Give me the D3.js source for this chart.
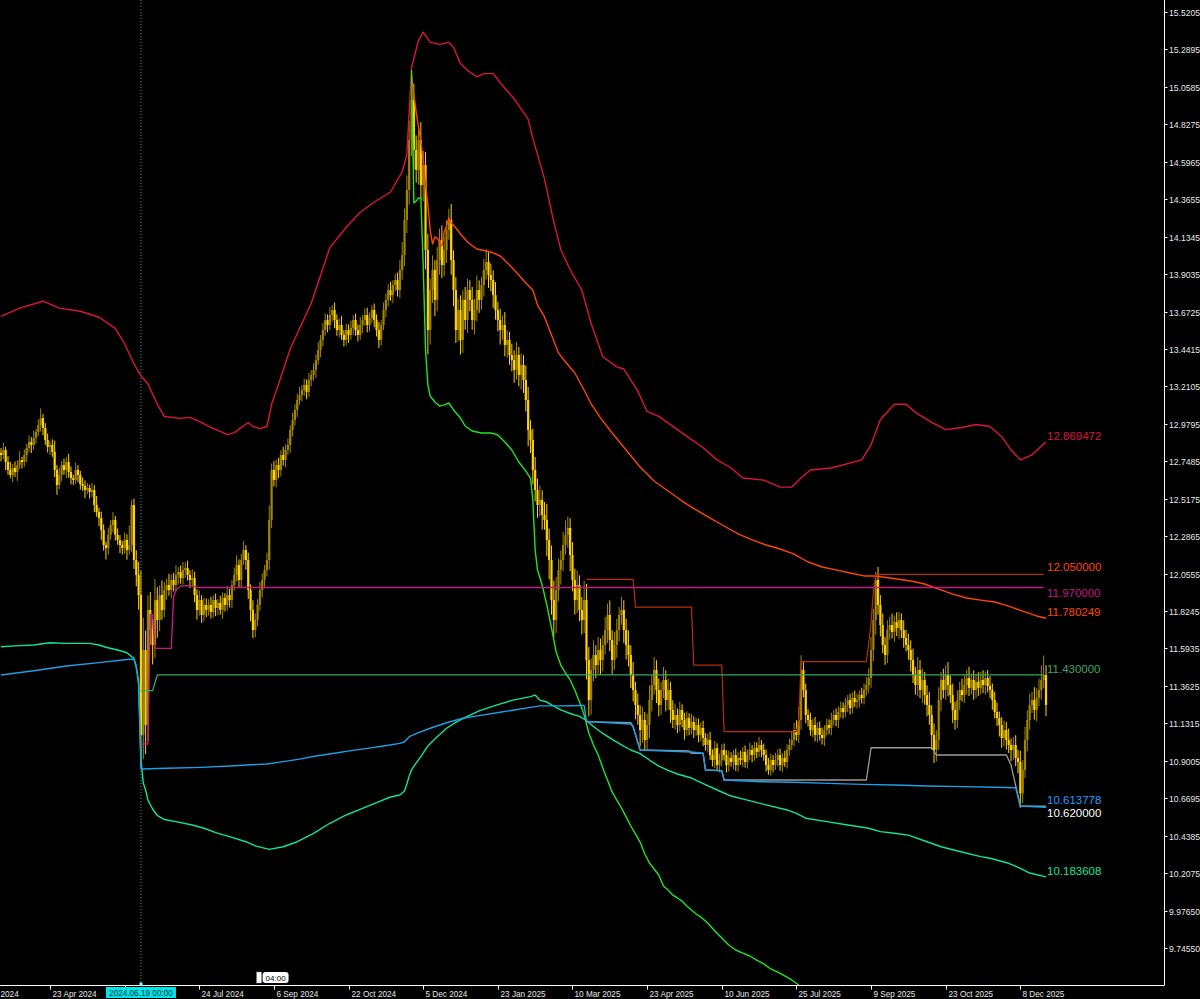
<!DOCTYPE html>
<html><head><meta charset="utf-8">
<script src="https://cdn.jsdelivr.net/npm/d3@7"></script>
<style>html,body{margin:0;padding:0;background:#000;overflow:hidden}</style>
</head><body>
<svg id="chart" width="1200" height="999"></svg>
<script>
// ---------- DATA ----------
// daily closes, one per bar (bar 0 .. 448)
const closes = [
12.787,12.818,12.744,12.695,12.664,12.707,12.682,12.725,12.756,12.744,
12.787,12.830,12.867,12.849,12.892,12.929,12.972,13.015,12.954,12.880,
12.837,12.849,12.806,12.695,12.602,12.664,12.725,12.695,12.744,12.682,
12.645,12.633,12.695,12.664,12.608,12.596,12.571,12.584,12.559,12.571,
12.479,12.436,12.398,12.324,12.232,12.213,12.294,12.355,12.386,12.294,
12.263,12.232,12.213,12.263,12.201,12.232,12.479,12.139,12.047,11.923,
11.060,11.584,11.121,11.831,11.707,11.615,11.892,11.769,11.923,11.831,
11.954,11.985,11.954,12.016,11.985,12.047,12.065,12.028,12.078,12.090,
12.047,12.016,12.028,11.923,11.831,11.892,11.800,11.862,11.831,11.862,
11.818,11.892,11.843,11.874,11.831,11.905,11.862,11.923,11.892,11.985,
12.047,12.108,12.016,12.139,12.201,12.139,11.954,11.831,11.707,11.769,
11.862,11.954,12.016,12.078,12.139,12.386,12.695,12.633,12.725,12.695,
12.787,12.756,12.818,12.849,12.941,13.003,13.065,13.126,13.157,13.188,
13.219,13.176,13.250,13.281,13.312,13.373,13.435,13.497,13.558,13.620,
13.589,13.651,13.682,13.620,13.558,13.589,13.528,13.497,13.558,13.528,
13.571,13.620,13.558,13.528,13.589,13.620,13.651,13.589,13.632,13.682,
13.620,13.558,13.497,13.589,13.682,13.744,13.805,13.774,13.836,13.867,
13.805,13.929,14.021,14.237,14.422,14.731,14.977,14.669,14.546,14.731,
14.453,14.576,14.052,13.558,13.805,13.929,13.744,13.990,14.114,13.959,
14.052,14.175,14.237,13.990,13.805,13.558,13.682,13.497,13.744,13.620,
13.805,13.744,13.620,13.682,13.805,13.744,13.836,13.929,13.978,13.898,
13.867,13.774,13.682,13.620,13.558,13.589,13.466,13.497,13.404,13.373,
13.312,13.404,13.281,13.343,13.250,13.126,12.941,12.880,12.695,12.571,
12.479,12.510,12.417,12.386,12.263,12.139,11.892,11.769,11.954,12.078,
12.139,12.232,12.294,12.337,12.170,12.016,11.892,11.985,11.831,11.769,
11.892,11.522,11.275,11.461,11.553,11.491,11.584,11.522,11.615,11.707,
11.800,11.646,11.522,11.615,11.707,11.800,11.831,11.707,11.615,11.553,
11.430,11.337,11.245,11.183,11.090,11.152,11.029,11.121,11.275,11.368,
11.461,11.337,11.245,11.337,11.399,11.275,11.337,11.214,11.152,11.183,
11.121,11.214,11.152,11.090,11.164,11.103,11.140,11.090,11.121,11.060,
11.103,11.041,10.998,11.029,10.936,10.905,10.979,10.874,10.905,10.967,
10.936,10.874,10.918,10.893,10.936,10.874,10.918,10.905,10.955,10.893,
10.936,10.967,10.936,10.979,10.955,10.998,10.967,10.936,10.874,10.844,
10.905,10.874,10.905,10.936,10.874,10.918,10.893,10.967,10.998,11.029,
11.090,11.060,11.152,11.461,11.337,11.183,11.152,11.090,11.121,11.060,
11.103,11.060,11.041,11.090,11.121,11.103,11.152,11.183,11.152,11.201,
11.226,11.201,11.245,11.275,11.226,11.288,11.263,11.275,11.306,11.288,
11.337,11.368,11.411,11.584,11.769,12.016,11.862,11.738,11.615,11.553,
11.707,11.738,11.695,11.757,11.720,11.769,11.707,11.658,11.615,11.584,
11.522,11.430,11.368,11.461,11.337,11.399,11.306,11.245,11.183,11.060,
10.967,11.029,11.275,11.399,11.337,11.430,11.368,11.306,11.214,11.152,
11.275,11.337,11.306,11.368,11.411,11.350,11.399,11.337,11.387,11.350,
11.399,11.368,11.411,11.362,11.337,11.275,11.201,11.164,11.121,11.041,
11.090,11.029,10.998,10.967,10.998,10.918,10.893,10.700,10.844,11.029,
11.152,11.245,11.275,11.214,11.288,11.337,11.399,11.430,11.245
];
const firstOpen = 12.80;
// wick lengths beyond the body, in thousandths of a price unit, one per bar
const upperWicks = [
30,45,20,35,50,25,40,30,55,20, 35,25,40,30,45,20,35,60,25,30,
40,25,35,70,30,45,25,40,30,50, 35,20,45,30,25,40,35,30,20,45,
30,55,25,40,35,20,45,30,50,25, 40,30,25,45,35,120,30,40,60,80,
150,200,120,90,110,70,130,80,60,90, 50,40,70,35,45,60,30,40,50,35,
45,30,55,40,35,60,30,45,40,35, 50,30,40,25,45,35,30,55,40,30,
45,60,35,40,55,30,45,35,60,40, 35,50,40,30,45,90,40,55,35,45,
30,50,35,40,30,45,35,40,50,30, 40,35,45,30,40,35,50,30,45,40,
35,50,30,45,35,40,55,30,40,35, 45,30,40,35,50,30,40,45,35,30,
40,35,50,30,45,40,35,50,30,40, 45,60,80,70,90,120,60,100,90,80,
110,90,80,100,70,90,60,80,70,90, 80,60,70,100,60,80,70,90,60,80,
70,60,80,70,90,60,50,70,80,60, 70,60,80,50,70,60,80,60,50,70,
60,80,50,70,60,90,80,60,70,80, 70,90,60,80,100,70,90,120,80,70,
60,80,90,70,60,80,70,90,60,80, 120,100,80,70,90,60,80,70,60,80,
70,90,60,80,70,50,80,60,70,90, 60,80,50,70,60,80,50,70,90,60,
80,60,70,50,80,60,70,50,60,70, 40,50,35,45,40,30,50,35,45,40,
35,45,30,40,50,35,45,30,40,35, 40,30,45,35,30,40,35,45,30,40,
35,45,30,40,35,50,30,40,35,45, 40,30,45,35,40,30,45,35,40,50,
45,60,80,90,50,40,35,45,40,50, 35,40,45,30,40,35,45,30,40,35,
40,35,45,30,40,35,45,40,30,45, 40,50,60,80,70,50,80,60,70,50,
60,50,70,40,60,50,40,60,50,70, 60,70,50,80,60,70,50,60,80,60,
70,60,80,50,70,60,80,60,70,50, 60,50,70,60,50,70,40,60,50,60,
50,60,40,50,60,40,50,60,40,50, 60,50,70,40,50,60,50,70,60,80,
60,70,50,80,60,70,90,120,60
];
const lowerWicks = [
40,25,50,30,20,45,30,55,25,40, 30,45,25,50,30,35,25,40,45,30,
35,50,30,45,60,25,40,30,50,35, 40,30,25,45,35,30,50,25,40,30,
45,30,50,60,35,70,40,30,45,35, 30,50,40,35,60,30,45,55,70,90,
200,150,180,100,90,120,80,110,70,60, 45,60,35,50,40,45,60,35,40,50,
35,50,40,45,60,35,50,40,45,35, 40,35,50,45,30,55,40,35,45,50,
35,40,50,45,30,60,55,70,50,45, 40,35,45,50,40,60,50,40,45,50,
40,35,45,30,50,40,35,45,30,40, 35,45,30,40,35,50,30,45,40,35,
45,30,40,50,35,45,30,40,35,50, 30,45,35,40,30,50,35,45,40,30,
45,40,50,35,30,45,40,35,50,40, 40,50,60,70,80,90,100,120,80,90,
90,100,120,150,90,80,100,70,90,80, 70,80,60,90,100,80,70,90,80,60,
80,70,60,90,70,80,60,70,60,80, 70,80,60,70,90,60,70,80,60,70,
80,60,70,90,80,70,100,80,90,70, 80,70,90,60,100,120,90,110,80,70,
90,70,60,80,100,70,90,80,70,90, 80,120,100,90,70,80,60,90,70,60,
80,70,90,60,80,70,60,80,90,70, 80,70,90,60,100,80,70,60,80,70,
60,80,70,60,50,70,60,80,50,60, 50,40,45,60,35,45,40,50,35,45,
40,50,35,45,30,40,50,35,45,40, 35,45,40,30,45,35,40,30,45,35,
40,30,45,35,40,30,45,35,40,30, 35,45,30,40,35,45,30,40,35,30,
40,35,50,60,45,50,40,35,45,40, 45,35,40,50,35,40,45,35,40,50,
35,40,30,45,40,35,30,40,45,35, 40,35,50,60,70,90,60,70,50,60,
50,60,40,60,50,70,50,60,40,60, 70,50,60,70,50,80,60,70,60,90,
80,70,60,70,50,60,70,50,80,60, 50,60,40,50,60,50,40,60,50,50,
40,50,60,40,50,60,40,50,70,60, 50,60,50,70,60,50,70,90,60,50,
70,60,50,60,70,50,60,50,70
];

// indicator lines: [bar, value]
const upperBand = [[0,13.643],[8,13.693],[18,13.736],[25,13.693],[34,13.674],[42,13.637],[49,13.568],[53,13.474],[57,13.350],[60,13.275],[63,13.225],[67,13.100],[70,13.025],[77,13.013],[81,13.019],[85,12.994],[90,12.957],[97,12.913],[100,12.925],[106,12.988],[108,12.963],[111,12.950],[114,12.963],[116,13.100],[119,13.225],[124,13.443],[133,13.724],[141,14.067],[148,14.192],[154,14.285],[160,14.348],[167,14.410],[172,14.535],[174,14.641],[176,15.177],[179,15.346],[181,15.396],[184,15.333],[188,15.321],[192,15.333],[194,15.302],[197,15.202],[200,15.159],[204,15.121],[207,15.140],[211,15.140],[214,15.084],[220,14.984],[226,14.859],[228,14.741],[233,14.491],[237,14.223],[240,14.054],[244,13.930],[249,13.805],[253,13.599],[258,13.393],[264,13.331],[267,13.318],[273,13.181],[277,13.056],[282,13.025],[287,12.975],[293,12.913],[301,12.832],[307,12.757],[313,12.707],[318,12.645],[327,12.632],[334,12.589],[339,12.589],[343,12.645],[347,12.695],[356,12.707],[369,12.757],[373,12.850],[377,13.006],[383,13.100],[388,13.100],[392,13.050],[399,12.988],[405,12.944],[412,12.957],[418,12.975],[424,12.963],[429,12.900],[433,12.819],[437,12.757],[442,12.788],[448,12.869]];
const middleBand = [[176,15.132],[177,15.008],[178,14.903],[179,14.811],[180,14.718],[181,14.607],[182,14.453],[183,14.330],[184,14.175],[185,14.089],[186,14.132],[187,14.126],[188,14.101],[189,14.077],[190,14.163],[191,14.200],[192,14.249],[193,14.219],[195,14.188],[197,14.151],[200,14.101],[204,14.058],[210,14.040],[214,14.015],[218,13.959],[222,13.898],[225,13.848],[228,13.805],[230,13.713],[233,13.639],[236,13.528],[239,13.417],[242,13.361],[246,13.293],[250,13.188],[253,13.102],[257,13.016],[262,12.923],[268,12.818],[274,12.713],[280,12.627],[286,12.565],[292,12.503],[298,12.448],[304,12.398],[310,12.349],[316,12.300],[322,12.263],[328,12.232],[334,12.207],[340,12.176],[346,12.127],[352,12.096],[358,12.078],[364,12.059],[370,12.041],[374,12.041],[378,12.034],[384,12.022],[390,12.010],[396,11.991],[402,11.960],[408,11.929],[414,11.905],[420,11.892],[426,11.880],[432,11.855],[438,11.824],[444,11.794],[448,11.780]];
const fastLowerBand = [[176,15.163],[177,14.342],[178,14.354],[179,14.373],[180,14.373],[181,13.959],[182,13.435],[183,13.219],[184,13.151],[186,13.114],[188,13.089],[190,13.096],[192,13.108],[194,13.065],[197,13.015],[199,12.966],[202,12.935],[206,12.923],[210,12.923],[213,12.911],[216,12.867],[219,12.818],[222,12.744],[225,12.688],[227,12.645],[228,12.510],[229,12.201],[230,12.078],[232,11.985],[234,11.862],[236,11.720],[238,11.572],[240,11.491],[242,11.442],[244,11.399],[246,11.337],[248,11.263],[250,11.183],[252,11.072],[254,10.998],[256,10.936],[258,10.856],[260,10.782],[262,10.708],[264,10.658],[266,10.609],[268,10.554],[270,10.498],[272,10.449],[274,10.399],[276,10.325],[278,10.270],[280,10.233],[282,10.196],[284,10.128],[286,10.103],[288,10.072],[290,10.054],[292,10.035],[294,10.004],[296,9.980],[298,9.955],[300,9.937],[303,9.900],[306,9.850],[309,9.807],[312,9.764],[315,9.733],[318,9.714],[321,9.696],[324,9.671],[327,9.647],[330,9.616],[333,9.597],[336,9.573],[339,9.548],[342,9.517],[345,9.490]];
const lowerBand = [[0,11.604],[8,11.611],[14,11.615],[21,11.629],[28,11.625],[38,11.625],[42,11.615],[45,11.601],[50,11.584],[54,11.567],[56,11.543],[57,11.533],[58,11.481],[59,11.368],[60,10.905],[61,10.763],[62,10.720],[63,10.658],[65,10.603],[67,10.563],[70,10.538],[75,10.525],[82,10.504],[87,10.484],[93,10.453],[98,10.432],[105,10.401],[109,10.375],[115,10.354],[121,10.370],[127,10.401],[134,10.453],[141,10.515],[148,10.566],[155,10.607],[161,10.642],[167,10.677],[171,10.689],[173,10.714],[174,10.757],[175,10.807],[176,10.844],[178,10.887],[180,10.926],[183,10.992],[187,11.049],[191,11.101],[195,11.137],[199,11.168],[205,11.208],[212,11.242],[219,11.273],[227,11.296],[229,11.306],[231,11.275],[234,11.263],[237,11.238],[240,11.214],[244,11.192],[248,11.174],[251,11.149],[254,11.112],[258,11.069],[262,11.032],[266,10.998],[270,10.967],[274,10.945],[278,10.905],[282,10.868],[286,10.841],[290,10.819],[296,10.794],[302,10.754],[308,10.714],[313,10.683],[320,10.658],[328,10.628],[337,10.597],[341,10.576],[345,10.546],[354,10.525],[363,10.504],[372,10.484],[377,10.463],[383,10.453],[389,10.442],[397,10.401],[403,10.370],[411,10.341],[420,10.309],[424,10.299],[432,10.268],[437,10.237],[441,10.208],[448,10.184]];
const supportLine = [[0,11.430],[14,11.456],[28,11.485],[42,11.506],[55,11.527],[57,11.527],[58,11.473],[59,11.399],[60,10.850],[71,10.854],[86,10.860],[100,10.870],[114,10.881],[121,10.895],[128,10.911],[135,10.930],[143,10.947],[150,10.963],[157,10.977],[164,10.992],[171,11.008],[173,11.018],[175,11.049],[179,11.074],[184,11.101],[191,11.135],[198,11.163],[205,11.179],[214,11.200],[220,11.214],[227,11.230],[231,11.239],[239,11.239],[245,11.240],[250,11.242],[251,11.142],[270,11.127],[271,11.109],[274,10.967],[296,10.955],[301,10.947],[302,10.844],[309,10.840],[310,10.782],[326,10.771],[340,10.768],[355,10.761],[369,10.755],[383,10.751],[397,10.745],[412,10.741],[426,10.737],[435,10.734],[437,10.621],[448,10.614]];
const lowestLow = [[251,11.142],[270,11.136],[271,11.111],[274,10.967],[295,10.961],[296,10.947],[301,10.947],[302,10.844],[309,10.839],[310,10.782],[371,10.782],[373,10.981],[399,10.981],[401,10.936],[431,10.936],[433,10.874],[437,10.621],[448,10.620]];
const highestHigh = [[251,12.020],[271,12.020],[272,11.848],[296,11.848],[297,11.491],[309,11.491],[310,11.080],[341,11.080],[342,11.152],[343,11.512],[371,11.512],[372,11.620],[373,11.750],[374,11.950],[375,12.050],[447,12.050]];
const levelMagenta = [[60,11.004],[63,11.004],[64,11.804],[65,11.804],[66,11.594],[73,11.594],[74,11.913],[75,11.954],[77,11.979],[81,11.981],[84,11.970],[447,11.970]];
const levelGreen = [[60,11.333],[65,11.333],[67,11.430],[447,11.430]];

const priceTicks = [15.5205,15.2895,15.0585,14.8275,14.5965,14.3655,14.1345,13.9035,13.6725,13.4415,13.2105,12.9795,12.7485,12.5175,12.2865,12.0555,11.8245,11.5935,11.3625,11.1315,10.9005,10.6695,10.4385,10.2075,9.9765,9.7455];
const dateTickBars = [-11,21,53,85,117,149,181,213,245,277,309,341,373,405,437];
const dateTickLabels = ["2024","23 Apr 2024","","24 Jul 2024","6 Sep 2024","22 Oct 2024","5 Dec 2024","23 Jan 2025","10 Mar 2025","23 Apr 2025","10 Jun 2025","25 Jul 2025","9 Sep 2025","23 Oct 2025","8 Dec 2025"];
const cursorBar = 60;
const cursorLabel = "2024.06.19 00:00";
const lineLabels = [
  {text:"12.869472", value:12.8695, dy:-2,  color:"#DC143C"},
  {text:"12.050000", value:12.05,   dy:-3,  color:"#FF4500"},
  {text:"11.970000", value:11.97,   dy:10,  color:"#C71585"},
  {text:"11.780249", value:11.7802, dy:-2,  color:"#FF4500"},
  {text:"11.430000", value:11.43,   dy:-2,  color:"#3AA564"},
  {text:"10.613778", value:10.6138, dy:-3,  color:"#1E9FFF"},
  {text:"10.620000", value:10.62,   dy:11,  color:"#FFFFFF"},
  {text:"10.183608", value:10.1836, dy:-2,  color:"#10E39C"}
];

// ---------- LAYOUT ----------
const W = 1200, H = 999, plotR = 1164.5, plotB = 985.5;
const FONT = "Liberation Sans, Arial, sans-serif";
const svg = d3.select("#chart");
svg.append("rect").attr("width",W).attr("height",H).attr("fill","#000");

const x = d3.scaleLinear().domain([0, 448]).range([1.0, 1046.0]);
const y = d3.scaleLinear().domain([15.5945, 9.5170]).range([0, 985]);

svg.append("clipPath").attr("id","plot").append("rect").attr("x",0).attr("y",0).attr("width",plotR).attr("height",plotB);
const g = svg.append("g").attr("clip-path","url(#plot)");

// cursor line
g.append("line").attr("x1",x(cursorBar)).attr("x2",x(cursorBar)).attr("y1",0).attr("y2",plotB)
  .attr("stroke","#13A6A6").attr("stroke-width",1).attr("stroke-dasharray","1,2");

// candles
const candles = closes.map((c,i)=>{
  const o = i===0 ? firstOpen : closes[i-1];
  return {i, o, c, h: Math.max(o,c) + upperWicks[i]/1000, l: Math.min(o,c) - lowerWicks[i]/1000};
});
const colorOf = d => d.c < d.o ? "#FFD200" : "#A08600";
const cg = g.append("g");
cg.selectAll("line").data(candles).join("line")
  .attr("x1", d=>x(d.i)).attr("x2", d=>x(d.i))
  .attr("y1", d=>y(d.h)).attr("y2", d=>y(d.l))
  .attr("stroke", colorOf).attr("stroke-width",1);
cg.selectAll("rect").data(candles).join("rect")
  .attr("x", d=>x(d.i)-1.1).attr("width",2.2)
  .attr("y", d=>y(Math.max(d.o,d.c)))
  .attr("height", d=>Math.max(1, Math.abs(y(d.o)-y(d.c))))
  .attr("fill", colorOf);

// lines
const line = d3.line().x(d=>x(d[0])).y(d=>y(d[1]));
const series = [
  {data: upperBand, color:"#DC143C", w:1.4},
  {data: middleBand, color:"#FF4500", w:1.4},
  {data: lowerBand, color:"#10E39C", w:1.4},
  {data: fastLowerBand, color:"#1EE61E", w:1.4},
  {data: highestHigh, color:"#B5300E", w:1.2},
  {data: levelMagenta, color:"#C21A84", w:1.4},
  {data: levelGreen, color:"#33AA66", w:1.3},
  {data: lowestLow, color:"#9A9A9A", w:1.3},
  {data: supportLine, color:"#1E9FE6", w:1.4}
];
series.forEach(s=>{
  g.append("path").datum(s.data).attr("d",line).attr("fill","none")
    .attr("stroke",s.color).attr("stroke-width",s.w).attr("stroke-linejoin","round");
});

// line value labels
svg.append("g").selectAll("text").data(lineLabels).join("text")
  .attr("x", x(448)+1).attr("y", d=>y(d.value)+d.dy)
  .attr("fill", d=>d.color).attr("font-family",FONT).attr("font-size","11.5px")
  .text(d=>d.text);

// axes
svg.append("line").attr("x1",plotR).attr("x2",plotR).attr("y1",0).attr("y2",plotB).attr("stroke","#FFFFFF").attr("stroke-width",1);
svg.append("line").attr("x1",0).attr("x2",plotR).attr("y1",plotB).attr("y2",plotB).attr("stroke","#FFFFFF").attr("stroke-width",1);

const pt = svg.append("g");
priceTicks.forEach(v=>{
  const yy = Math.round(y(v))+0.5;
  pt.append("line").attr("x1",plotR).attr("x2",plotR+3).attr("y1",yy).attr("y2",yy).attr("stroke","#FFFFFF");
  pt.append("text").attr("x",plotR+4.5).attr("y",yy+3)
    .attr("fill","#E6E6E6").attr("font-family",FONT).attr("font-size","8.6px")
    .text(v.toFixed(v >= 10 ? 4 : 5));
});

const dt = svg.append("g");
dateTickBars.forEach((b,k)=>{
  const xx = Math.round(x(b))+0.5;
  if (xx > 0) dt.append("line").attr("x1",xx).attr("x2",xx).attr("y1",plotB).attr("y2",plotB+4).attr("stroke","#FFFFFF");
  const lbl = dateTickLabels[k];
  if (!lbl) return;
  dt.append("text").attr("x", Math.max(0.5, xx+2)).attr("y",996.5)
    .attr("fill","#E6E6E6").attr("font-family",FONT).attr("font-size","8.2px")
    .text(lbl);
});

// cursor date box
const cx = x(cursorBar);
svg.append("rect").attr("x",cx-35).attr("y",987).attr("width",70).attr("height",11).attr("fill","#00E6E6");
svg.append("text").attr("x",cx).attr("y",996).attr("text-anchor","middle")
  .attr("fill","#003040").attr("font-family",FONT).attr("font-size","8.2px").text(cursorLabel);
svg.append("rect").attr("x",cx-1.5).attr("y",plotB-3).attr("width",3).attr("height",3).attr("fill","#7FFFFF");

// small time marker
const mx = x(110);
svg.append("rect").attr("x",mx-1).attr("y",972).attr("width",5).attr("height",11).attr("fill","#FFFFFF").attr("stroke","#888").attr("stroke-width",0.5);
svg.append("rect").attr("x",mx+5).attr("y",972).attr("width",26).attr("height",11).attr("rx",3).attr("fill","#FFFFFF");
svg.append("text").attr("x",mx+18).attr("y",980.5).attr("text-anchor","middle")
  .attr("fill","#000").attr("font-family",FONT).attr("font-size","8px").text("04:00");
</script>
</body></html>
